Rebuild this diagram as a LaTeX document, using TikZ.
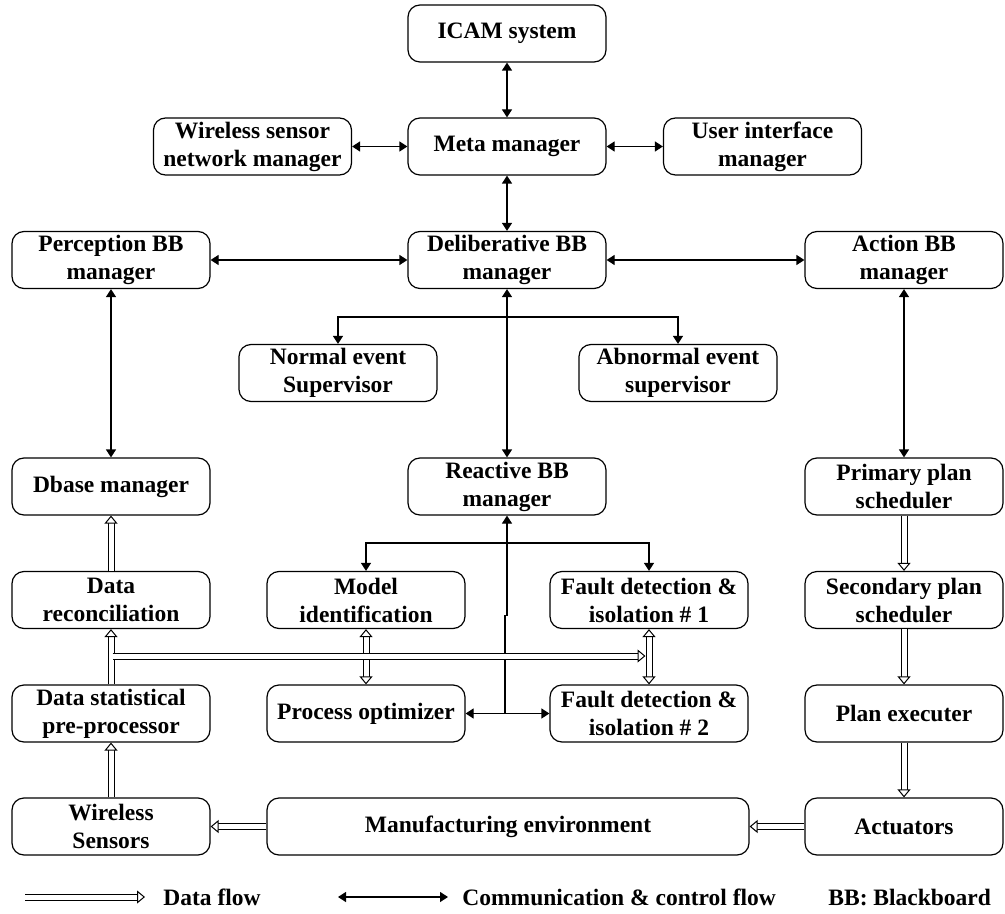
\documentclass[tikz,border=0pt]{standalone}
\usepackage{fontspec}
\setmainfont{Liberation Serif}
\usetikzlibrary{arrows.meta,calc}
\begin{document}
\begin{tikzpicture}[x=0.5pt,y=-0.5pt]
\tikzset{
 box/.style={draw, line width=0.6pt, rounded corners=6pt, minimum width=99pt, minimum height=28.5pt, inner sep=1pt, align=center, font=\fontsize{11.75}{14}\selectfont\bfseries},
 tip/.tip={Triangle[length=4pt,width=5pt]},
 htip/.tip={Triangle[length=4pt,width=6.5pt,line width=0.5pt,fill=white]},
 ctrl/.style={line width=0.6pt, tip-tip},
 ctrlend/.style={line width=0.6pt, -tip},
 ctrlstart/.style={line width=0.6pt, tip-},
 dline/.style={double, double distance=2.5pt, line width=0.5pt},
 data/.style={dline, -htip},
 datatwo/.style={dline, htip-htip},
 legend/.style={font=\fontsize{11.75}{14}\selectfont\bfseries, inner sep=0pt, anchor=base west}
}
\useasboundingbox (0,0) rectangle (1005,914);
% nodes
\node[box] (icam) at (507,33.5) {ICAM system};
\node[box] (meta) at (507,146.5) {Meta manager};
\node[box] (wsn) at (252.5,146.5) {Wireless sensor\\network manager};
\node[box] (ui) at (762.5,146.5) {User interface\\manager};
\node[box] (perc) at (111,260) {Perception BB\\manager};
\node[box] (delib) at (507,260) {Deliberative BB\\manager};
\node[box] (action) at (904,260) {Action BB\\manager};
\node[box] (normal) at (338,373) {Normal event\\Supervisor};
\node[box] (abnormal) at (678,373) {Abnormal event\\supervisor};
\node[box] (dbase) at (111,486.5) {Dbase manager};
\node[box] (reactive) at (507,486.5) {Reactive BB\\manager};
\node[box] (primary) at (904,486.5) {Primary plan\\scheduler};
\node[box] (datarec) at (111,600) {Data\\reconciliation};
\node[box] (model) at (366,600) {Model\\identification};
\node[box] (fault1) at (649,600) {Fault detection \&\\isolation \# 1};
\node[box] (secondary) at (904,600) {Secondary plan\\scheduler};
\node[box] (datastat) at (111,713.5) {Data statistical\\pre-processor};
\node[box] (procopt) at (366,713.5) {Process optimizer};
\node[box] (fault2) at (649,713.5) {Fault detection \&\\isolation \# 2};
\node[box] (planexec) at (904,713.5) {Plan executer};
\node[box] (wsens) at (111,826.5) {Wireless\\Sensors};
\node[box, minimum width=241pt] (manuf) at (508,826.5) {Manufacturing environment};
\node[box] (actuators) at (904,826.5) {Actuators};
% communication & control
\draw[ctrl] (icam) -- (meta);
\draw[ctrl] (wsn) -- (meta);
\draw[ctrl] (meta) -- (ui);
\draw[ctrl] (meta) -- (delib);
\draw[ctrl] (perc) -- (delib);
\draw[ctrl] (delib) -- (action);
\draw[ctrl] (perc) -- (dbase);
\draw[ctrl] (action) -- (primary);
\draw[ctrl] (delib) -- (reactive);
\coordinate (j1) at (507,317);
\draw[ctrlend] (j1) -| (normal.north);
\draw[ctrlend] (j1) -| (abnormal.north);
\coordinate (j2) at (507,543);
\draw[ctrlend] (j2) -| (model.north);
\draw[ctrlend] (j2) -| (fault1.north);
\coordinate (j3) at (505,713.5);
\draw[ctrlstart] (reactive.south) -- ++(0,100) -- ++(-2,0) -- (j3);
\draw[ctrl] (procopt) -- (fault2);
% data flow
\draw[data] (datarec.north) -- (dbase.south);
\draw[data] (datastat.north) -- (datarec.south);
\draw[data] (wsens.north) -- (datastat.south);
\draw[data] (primary.south) -- (secondary.north);
\draw[data] (secondary.south) -- (planexec.north);
\draw[data] (planexec.south) -- (actuators.north);
\draw[data] (manuf.west) -- (wsens.east);
\draw[data] (actuators.west) -- (manuf.east);
\draw[datatwo] (model.south) -- (procopt.north);
\draw[datatwo] (fault1.south) -- (fault2.north);
\coordinate (d0) at (112.5,656);
\coordinate (d1) at (645.5,656);
\draw[data] (d0) -- (d1);
% legend
\coordinate (l1) at (25,897);
\coordinate (l2) at (145,897);
\draw[data] (l1) -- (l2);
\node[legend] (lt1) at (163,905) {Data flow};
\coordinate (l3) at (338,897);
\coordinate (l4) at (448,897);
\draw[ctrl] (l3) -- (l4);
\node[legend] (lt2) at (462,905) {Communication \& control flow};
\node[legend] (lt3) at (828,905) {BB: Blackboard};
\end{tikzpicture}
\end{document}
